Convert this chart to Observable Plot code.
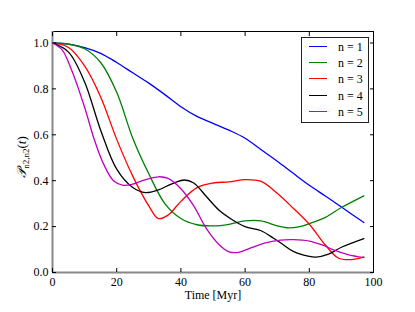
<!DOCTYPE html>
<html><head><meta charset="utf-8">
<script src="https://cdn.jsdelivr.net/npm/d3@7"></script>
<script src="https://cdn.jsdelivr.net/npm/@observablehq/plot@0.6"></script>
<style>
body{margin:0;background:#fff}
#wrap{position:relative;width:415px;height:312px;font-family:"Liberation Serif","DejaVu Serif",serif;color:#000}
#wrap svg text{font-family:"Liberation Serif","DejaVu Serif",serif}
#legend{position:absolute;left:301px;top:37px;width:66px;height:84px;border:1px solid #222;background:#fff;font-size:12px}
.row{position:absolute;left:0;height:16px;width:66px}
.sw{position:absolute;left:7px;top:7px;width:18px;height:0;border-top:1.3px solid}
.lt{position:absolute;left:36px;top:0;line-height:16px;white-space:nowrap}
#ylab{position:absolute;left:22px;top:157px;transform:translate(-50%,-50%) rotate(-90deg);font-size:13px;white-space:nowrap}
#ylab sub{font-size:9px;vertical-align:-3px}
#xlab{position:absolute;left:213px;top:295px;transform:translate(-50%,-50%);font-size:12px;white-space:nowrap}
</style>
</head><body><div id="wrap"></div>
<script>
const labels = ["n = 1","n = 2","n = 3","n = 4","n = 5"];
const colors = ["#0000ff","#008000","#ff0000","#000000","#bf00bf"];
const xTicks = [0,20,40,60,80,100];
const yTicks = [0,0.2,0.4,0.6,0.8,1.0];

const t1 = [0,5,10,15,20,25,30,35,40,45,50,55,60,65,70,75,80,85,90,97];
const p1 = [1,0.995,0.98,0.955,0.915,0.87,0.825,0.775,0.722,0.68,0.65,0.62,0.585,0.535,0.485,0.432,0.38,0.333,0.285,0.218];
const t2 = [0,5,10,15,20,25,30,35,40,45,50,55,60,65,70,73,77,80,85,90,97];
const p2 = [1,0.995,0.975,0.915,0.785,0.585,0.43,0.30,0.235,0.208,0.203,0.21,0.225,0.225,0.203,0.195,0.2,0.213,0.24,0.283,0.334];
const t3 = [0,5,10,15,20,25,30,33,36,40,45,50,55,60,65,70,75,80,85,89,93,97];
const p3 = [1,0.98,0.9,0.765,0.58,0.42,0.29,0.235,0.25,0.31,0.37,0.39,0.395,0.405,0.397,0.345,0.28,0.21,0.12,0.063,0.056,0.068];
const t4 = [0,5,10,15,20,25,29,33,37,41,44,48,52,56,60,65,69,72,75,80,82,86,90,97];
const p4 = [1,0.96,0.83,0.62,0.45,0.37,0.348,0.36,0.385,0.403,0.39,0.33,0.27,0.23,0.2,0.182,0.148,0.12,0.092,0.07,0.067,0.08,0.11,0.148];
const t5 = [0,3,6,10,13,16,19,22,25,28,33,36,40,44,48,52,55,58,62,66,71,75,80,84,88,92,97];
const p5 = [1,0.97,0.88,0.72,0.58,0.47,0.4,0.38,0.385,0.4,0.417,0.41,0.365,0.29,0.19,0.12,0.09,0.088,0.108,0.128,0.141,0.143,0.137,0.12,0.096,0.078,0.065];

const seriesT = [t1,t2,t3,t4,t5];
const seriesP = [p1,p2,p3,p4,p5];
const data = seriesT.flatMap((ts,i)=>ts.map((t,j)=>({t, p: seriesP[i][j], s: labels[i]})));

const chart = Plot.plot({
  width: 415, height: 312,
  marginLeft: 52, marginRight: 42, marginTop: 31, marginBottom: 40,
  style: {fontFamily: '"Liberation Serif","DejaVu Serif",serif', fontSize: "12px", background: "#fff", color: "#000"},
  x: {domain: [0,100], ticks: xTicks, label: null},
  y: {domain: [0,1.05], ticks: yTicks, label: null},
  color: {domain: labels, range: colors},
  marks: [
    Plot.line(data, {x: "t", y: "p", z: "s", stroke: "s", strokeWidth: 1.3, curve: "catmull-rom"}),
    Plot.frame({stroke: "#000", strokeWidth: 1}),
    Plot.ruleX([0], {stroke: "#888", strokeWidth: 2}),
    Plot.ruleY([0], {stroke: "#888", strokeWidth: 2}),
    Plot.axisX(xTicks, {anchor: "bottom", tickSize: -4, tickPadding: 9, tickFormat: d => String(d), fontSize: 12}),
    Plot.axisX(xTicks, {anchor: "top", tickSize: -4, tickFormat: () => ""}),
    Plot.axisY(yTicks, {anchor: "left", tickSize: -4, tickPadding: 8, tickFormat: d => d.toFixed(1), fontSize: 12}),
    Plot.axisY(yTicks, {anchor: "right", tickSize: -4, tickFormat: () => ""})
  ]
});
const wrap = document.getElementById("wrap");
wrap.appendChild(chart);

const leg = document.createElement("div");
leg.id = "legend";
labels.forEach((l,i)=>{
  const r = document.createElement("div");
  r.className = "row";
  r.style.top = (0.5 + i*16.4) + "px";
  r.innerHTML = `<span class="sw" style="border-color:${colors[i]}"></span><span class="lt">${l}</span>`;
  leg.appendChild(r);
});
wrap.appendChild(leg);

const yl = document.createElement("div");
yl.id = "ylab";
yl.innerHTML = '<span style="font-style:italic">𝒫</span><sub>n2,n2</sub>(<i>t</i>)';
wrap.appendChild(yl);
const xl = document.createElement("div");
xl.id = "xlab";
xl.textContent = "Time [Myr]";
wrap.appendChild(xl);
</script>
</body></html>
